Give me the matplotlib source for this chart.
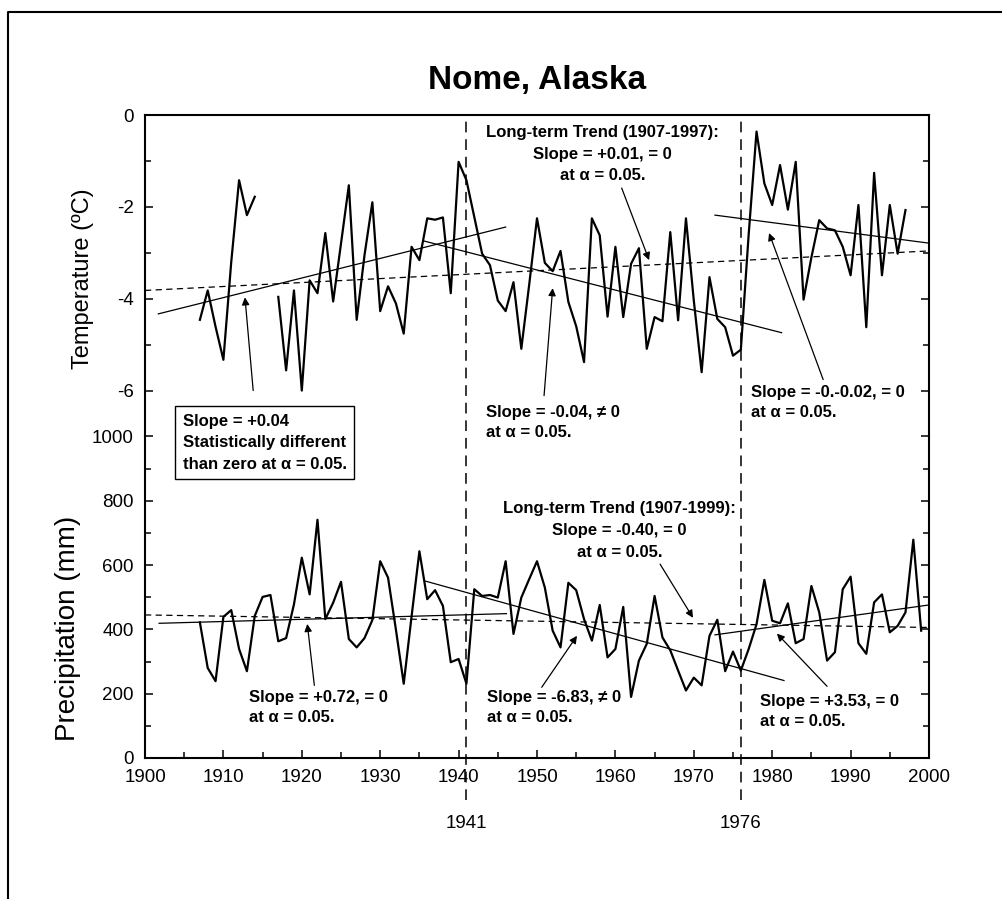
import numpy as np
import matplotlib
matplotlib.use('Agg')
import matplotlib.pyplot as plt
from matplotlib.lines import Line2D
from matplotlib.ticker import MultipleLocator, FixedLocator
import matplotlib.transforms as mtransforms

plt.rcParams['font.family'] = ['Liberation Sans', 'DejaVu Sans']
plt.rcParams['axes.unicode_minus'] = False

# ---------------- data ----------------
temp_years = list(range(1907, 1998))
temp_values = [
    -4.46, -3.82, -4.61, -5.33, -3.20, -1.42, -2.18, -1.78, np.nan, np.nan,   # 1907-1916
    -3.96, -5.56, -3.82, -6.00, -3.60, -3.88, -2.57, -4.06, -2.80, -1.53,     # 1917-1926
    -4.46, -3.05, -1.90, -4.27, -3.73, -4.10, -4.76, -2.87, -3.16, -2.25,     # 1927-1936
    -2.28, -2.23, -3.88, -1.02, -1.42, -2.22, -3.02, -3.27, -4.04, -4.27,     # 1937-1946
    -3.64, -5.09, -3.70, -2.25, -3.22, -3.40, -2.96, -4.07, -4.60, -5.38,     # 1947-1956
    -2.25, -2.62, -4.39, -2.87, -4.40, -3.24, -2.90, -5.09, -4.40, -4.49,     # 1957-1966
    -2.55, -4.47, -2.25, -4.04, -5.60, -3.53, -4.44, -4.62, -5.24, -5.11,     # 1967-1976
    -2.60, -0.36, -1.49, -1.96, -1.09, -2.06, -1.02, -4.02, -3.10, -2.29,     # 1977-1986
    -2.47, -2.51, -2.87, -3.49, -1.96, -4.62, -1.26, -3.49, -1.96, -3.02,     # 1987-1996
    -2.07,                                                                    # 1997
]

precip_years = list(range(1907, 2000))
precip_values = [
    422, 280, 239, 439, 460, 339, 270, 442, 501, 507,   # 1907-1916
    363, 373, 478, 623, 509, 741, 432, 483, 548, 370,   # 1917-1926
    344, 373, 429, 612, 561, 400, 231, 440, 643, 494,   # 1927-1936
    522, 473, 298, 308, 231, 525, 504, 507, 499, 612,   # 1937-1946
    386, 499, 556, 612, 530, 396, 344, 545, 522, 432,   # 1947-1956
    365, 476, 313, 339, 470, 190, 303, 355, 504, 375,   # 1957-1966
    335, 272, 210, 250, 226, 380, 430, 270, 331, 272,   # 1967-1976
    339, 416, 554, 427, 419, 481, 357, 370, 535, 453,   # 1977-1986
    303, 329, 525, 564, 357, 324, 484, 509, 391, 411,   # 1987-1996
    453, 679, 396,                                      # 1997-1999
]

# trend segments (start year, end year, start value, end value)
temp_trend_x0 = [1901.7, 1935.5, 1972.7]
temp_trend_x1 = [1946.0, 1981.2, 2000.0]
temp_trend_y0 = [-4.33, -2.74, -2.18]
temp_trend_y1 = [-2.44, -4.74, -2.79]
temp_longterm_x = [1900, 2000]
temp_longterm_y = [-3.82, -2.96]

precip_trend_x0 = [1901.8, 1935.8, 1972.7]
precip_trend_x1 = [1946.1, 1981.5, 2000.0]
precip_trend_y0 = [419, 550, 383]
precip_trend_y1 = [449, 241, 476]
precip_longterm_x = [1900, 2000]
precip_longterm_y = [445, 406]

break_years = [1941, 1976]
break_labels = ['1941', '1976']

temp_ticks = [0, -2, -4, -6]
temp_minor = [-1, -3, -5]

# ---------------- figure ----------------
W, H = 1003, 899
fig = plt.figure(figsize=(W / 100, H / 100), dpi=100)


def fx(px):
    return px / W


def fy(py):
    return 1 - py / H


L, R, T, M, B = 145, 929, 115, 436.5, 758
ax_t = fig.add_axes([fx(L), fy(M), fx(R) - fx(L), fy(T) - fy(M)])
ax_p = fig.add_axes([fx(L), fy(B), fx(R) - fx(L), fy(M) - fy(B)])
for ax in (ax_t, ax_p):
    ax.set_facecolor('none')
    ax.set_xlim(1900, 2000)
    for s in ax.spines.values():
        s.set_linewidth(1.5)

ax_t.set_ylim(-7, 0)
ax_p.set_ylim(0, 1000)
ax_t.spines['bottom'].set_visible(False)
ax_p.spines['top'].set_visible(False)

ax_t.tick_params(axis='x', which='both', bottom=False, top=False, labelbottom=False)
ax_t.yaxis.set_major_locator(FixedLocator(temp_ticks))
ax_t.yaxis.set_minor_locator(FixedLocator(temp_minor))
ax_t.tick_params(axis='y', which='both', direction='in', left=True, right=True,
                 labelsize=13.5, pad=8, width=1.1)
ax_t.tick_params(axis='y', which='major', length=6)
ax_t.tick_params(axis='y', which='minor', length=4)

ax_p.xaxis.set_major_locator(MultipleLocator(10))
ax_p.xaxis.set_minor_locator(MultipleLocator(5))
ax_p.yaxis.set_major_locator(MultipleLocator(200))
ax_p.yaxis.set_minor_locator(MultipleLocator(100))
ax_p.tick_params(axis='both', which='both', direction='in', left=True, right=True,
                 bottom=True, top=False, labelsize=13.5, width=1.1)
ax_p.tick_params(axis='both', which='major', length=6)
ax_p.tick_params(axis='both', which='minor', length=4)
ax_p.tick_params(axis='x', pad=8)
ax_p.tick_params(axis='y', pad=8)

# data lines
ax_t.plot(temp_years, temp_values, color='black', lw=1.6, zorder=3)
ax_p.plot(precip_years, precip_values, color='black', lw=1.6, zorder=3)

for x0, x1, y0, y1 in zip(temp_trend_x0, temp_trend_x1, temp_trend_y0, temp_trend_y1):
    ax_t.plot([x0, x1], [y0, y1], color='black', lw=0.9)
for x0, x1, y0, y1 in zip(precip_trend_x0, precip_trend_x1, precip_trend_y0, precip_trend_y1):
    ax_p.plot([x0, x1], [y0, y1], color='black', lw=0.9)
ax_t.plot(temp_longterm_x, temp_longterm_y, color='black', lw=0.9, ls=(0, (5, 3.5)))
ax_p.plot(precip_longterm_x, precip_longterm_y, color='black', lw=0.9, ls=(0, (5, 3.5)))

# vertical breakpoint lines
trans = mtransforms.blended_transform_factory(ax_p.transData, ax_p.transAxes)
for yr, lab in zip(break_years, break_labels):
    ax_p.plot([yr, yr], [-0.13, 2.0], transform=trans, clip_on=False,
              color='black', lw=1.1, ls=(0, (7, 4.5)), zorder=2)
    ax_p.text(yr, -0.205, lab, transform=trans, ha='center', va='center',
              fontsize=13.5)

# annotations
font3 = dict(fontsize=12, fontweight='bold', linespacing=1.55)
font2 = dict(fontsize=12, fontweight='bold', linespacing=1.42)
arrow = dict(arrowstyle='-|>', lw=0.9, color='black', mutation_scale=11,
             shrinkA=0, shrinkB=0)


def arr(ax, tail, head):
    ax.annotate('', xy=head, xytext=tail, xycoords='data', textcoords='data',
                arrowprops=arrow, annotation_clip=False)


ax_t.text(1904.8, -6.5, 'Slope = +0.04\nStatistically different\nthan zero at \u03b1 = 0.05.',
          ha='left', va='top', zorder=6,
          bbox=dict(boxstyle='square,pad=0.45', fc='white', ec='black', lw=1), **font3)
arr(ax_t, (1913.8, -6.0), (1912.75, -3.97))

ax_t.text(1943.5, -6.31, 'Slope = -0.04, \u2260 0\nat \u03b1 = 0.05.', ha='left', va='top', **font2)
arr(ax_t, (1950.9, -6.11), (1952.0, -3.77))

ax_t.text(1977.3, -5.87, 'Slope = -0.-0.02, = 0\nat \u03b1 = 0.05.', ha='left', va='top', **font2)
arr(ax_t, (1986.5, -5.76), (1979.6, -2.57))

ax_t.text(1958.4, -0.22, 'Long-term Trend (1907-1997):\nSlope = +0.01, = 0\nat \u03b1 = 0.05.',
          ha='center', va='top', multialignment='center', **font3)
arr(ax_t, (1960.8, -1.59), (1964.3, -3.16))

ax_p.text(1960.5, 798, 'Long-term Trend (1907-1999):\nSlope = -0.40, = 0\nat \u03b1 = 0.05.',
          ha='center', va='top', multialignment='center', **font3)
arr(ax_p, (1965.7, 603), (1969.9, 436))

ax_p.text(1913.3, 213, 'Slope = +0.72, = 0\nat \u03b1 = 0.05.', ha='left', va='top', **font2)
arr(ax_p, (1921.6, 226), (1920.7, 417))

ax_p.text(1943.6, 213, 'Slope = -6.83, \u2260 0\nat \u03b1 = 0.05.', ha='left', va='top', **font2)
arr(ax_p, (1950.6, 220), (1955.1, 380))

ax_p.text(1978.4, 198, 'Slope = +3.53, = 0\nat \u03b1 = 0.05.', ha='left', va='top', **font2)
arr(ax_p, (1987.0, 223), (1980.6, 387))

# titles / labels
fig.text(fx(537), fy(81), 'Nome, Alaska', ha='center', va='center',
         fontsize=24, fontweight='bold')
fig.text(fx(83), fy(279), 'Temperature (\u00baC)', rotation=90, ha='center',
         va='center', fontsize=17)
fig.text(fx(68), fy(628), 'Precipitation (mm)', rotation=90, ha='center',
         va='center', fontsize=20)

# outer frame
fig.add_artist(Line2D([fx(8), fx(8), 1.0], [0.0, fy(12), fy(12)],
                      transform=fig.transFigure, color='black', lw=1.5))

fig.savefig('out.png', dpi=100)
